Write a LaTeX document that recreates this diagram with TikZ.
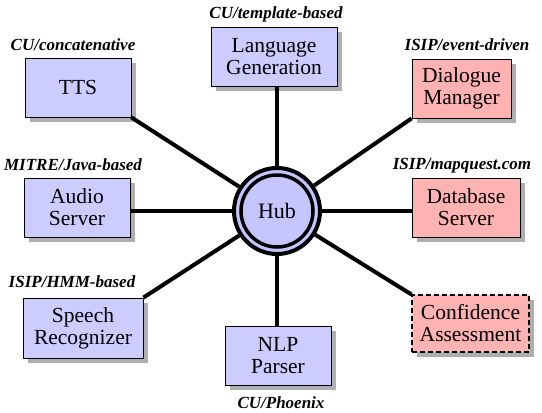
\documentclass[tikz,border=0pt]{standalone}
\usepackage{fontspec}
\setmainfont{Liberation Serif}
\newfontfamily\boxfont{Liberation Serif}
\definecolor{boxblue}{RGB}{204,204,255}
\usetikzlibrary{shadows}
\definecolor{boxpink}{RGB}{255,178,178}
\definecolor{hubblue}{RGB}{198,198,255}
\definecolor{shadowgray}{RGB}{175,175,175}
\begin{document}
\begin{tikzpicture}[x=1pt,y=-1pt,
  box/.style={draw=black, line width=0.8pt, minimum height=59pt, inner sep=0pt,
    align=center, font=\boxfont\fontsize{21.5}{22}\selectfont,
    general shadow={fill=shadowgray, shadow xshift=4.5pt, shadow yshift=-4.5pt}},
  bluebox/.style={box, fill=boxblue},
  pinkbox/.style={box, fill=boxpink},
  lab/.style={font=\boxfont\fontsize{17}{19}\selectfont\bfseries\itshape, inner sep=0pt},
  conn/.style={line width=4pt}]
\useasboundingbox[fill=white] (0,0) rectangle (542,413);

% boxes
\node[bluebox, minimum width=106pt] (tts) at (78,87.5) {TTS};
\node[bluebox, minimum width=126pt] (lg) at (274,56.5) {Language\\Generation};
\node[pinkbox, minimum width=99pt] (dm) at (461.5,88.5) {Dialogue\\Manager};
\node[bluebox, minimum width=106pt] (audio) at (77,207.5) {Audio\\Server};
\node[pinkbox, minimum width=108pt] (db) at (466,207.5) {Database\\Server};
\node[bluebox, minimum width=120pt, minimum height=60pt] (sr) at (83,328) {Speech\\Recognizer};
\node[bluebox, minimum width=106pt] (nlp) at (278,355.5) {NLP\\Parser};
\node[pinkbox, minimum width=117pt, minimum height=57pt, dash pattern=on 5pt off 3pt, line width=1.1pt] (conf) at (470.5,323.5) {Confidence\\Assessment};

% hub
\node[circle, draw=black, line width=4pt, fill=hubblue, minimum size=86pt, inner sep=0pt,
      font=\boxfont\fontsize{22}{24}\selectfont] (hub) at (277,211) {Hub};
\draw[line width=3.5pt] (hub.center) circle[radius=36pt];

% connectors
\draw[conn] (hub) -- (tts.south east);
\draw[conn] (hub.north) -- (hub.north |- lg.south);
\draw[conn] (hub) -- (dm.south west);
\draw[conn] (hub.west) -- (hub.west -| audio.east);
\draw[conn] (hub.east) -- (hub.east -| db.west);
\draw[conn] (hub) -- (conf.north west);
\draw[conn] (hub) -- (sr.north east);
\draw[conn] (hub.south) -- (hub.south |- nlp.north);

% labels
\node[lab] (l1) at (73,45) {CU/concatenative};
\node[lab] (l2) at (276,14) {CU/template-based};
\node[lab] (l3) at (467,45) {ISIP/event-driven};
\node[lab] (l4) at (73,165) {MITRE/Java-based};
\node[lab] (l5) at (462,166) {ISIP/mapquest.com};
\node[lab] (l6) at (72,282) {ISIP/HMM-based};
\node[lab] (l7) at (281,403) {CU/Phoenix};
\end{tikzpicture}
\end{document}
